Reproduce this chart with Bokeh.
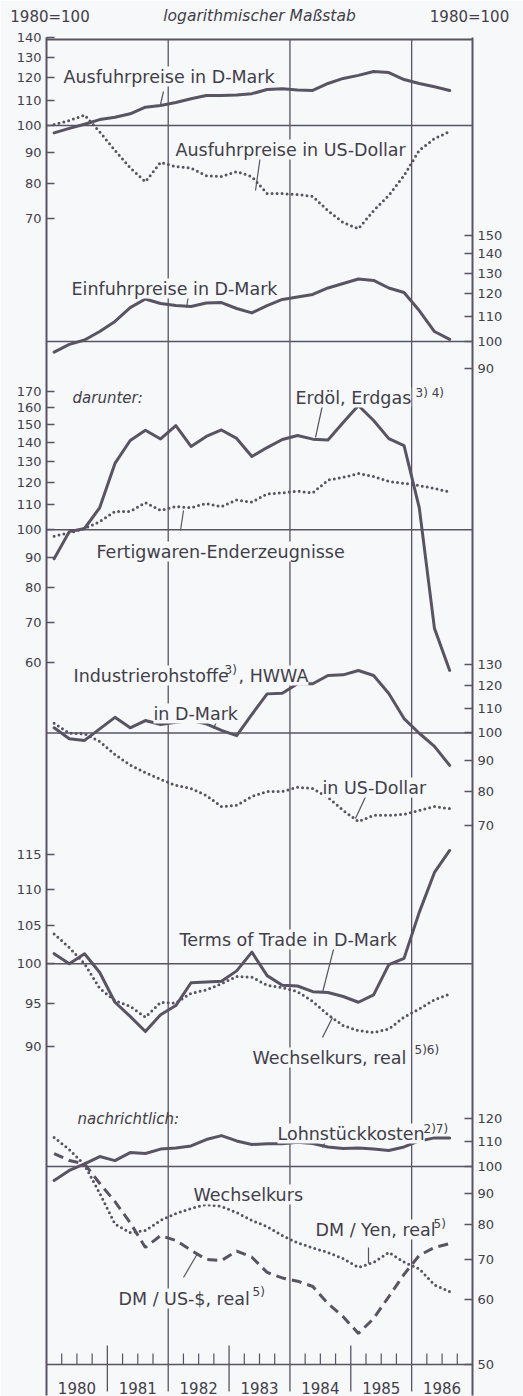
import numpy as np
from bokeh.plotting import figure
from bokeh.models import Range1d, FixedTicker, LinearAxis, Label, Span
from bokeh.embed import file_html
from bokeh.resources import INLINE

# ---------------- data (quarterly, 1980 = 100) ----------------
quarters = [f"{y}Q{q}" for y in range(1980, 1987) for q in range(1, 5)][:27]
x_q = [int(s[:4]) + (int(s[5]) - 0.5) / 4.0 for s in quarters]

ausfuhr_dm = [97.2, 98.9, 100.5, 102.3, 103.2, 104.6, 107.3, 108.0, 109.2, 110.8, 112.2, 112.2, 112.4, 113.0,
              114.8, 115.1, 114.6, 114.4, 117.5, 119.8, 121.2, 123.0, 122.5, 119.3, 117.5, 116.0, 114.4]
ausfuhr_usd = [100.4, 101.9, 104.1, 97.6, 90.9, 85.0, 80.6, 86.8, 85.4, 84.9, 82.5, 82.2, 83.8, 82.2,
               77.0, 77.0, 76.7, 76.2, 72.1, 68.9, 67.3, 72.1, 76.5, 82.5, 90.9, 95.1, 97.7]
einfuhr_dm = [96.0, 98.9, 100.6, 103.9, 108.0, 113.9, 117.7, 115.7, 114.8, 114.4, 115.9, 116.1, 113.5, 111.6,
              114.8, 117.5, 118.6, 119.8, 122.8, 124.9, 127.1, 126.4, 122.8, 120.7, 112.6, 103.9, 100.8]
erdoel = [89.5, 99.3, 100.5, 108.9, 129.0, 140.9, 146.5, 141.7, 149.2, 137.7, 143.1, 146.7, 142.0, 132.5,
          137.1, 141.4, 143.6, 141.6, 141.2, 151.0, 161.1, 152.1, 141.9, 138.1, 108.9, 68.5, 58.3]
fertigwaren = [97.6, 98.8, 100.5, 103.2, 107.3, 107.3, 111.0, 107.7, 109.3, 108.9, 110.6, 109.3, 112.1, 111.2,
               114.8, 115.2, 116.0, 115.2, 121.0, 122.3, 124.1, 122.7, 120.4, 119.5, 118.5, 117.2, 115.6]
rohstoffe_dm = [102.0, 97.8, 97.2, 101.6, 106.2, 102.0, 104.9, 103.3, 104.2, 104.9, 103.6, 101.0, 99.0, 107.4,
                116.2, 116.5, 120.8, 120.8, 124.7, 125.0, 127.1, 124.7, 116.4, 105.7, 99.9, 95.0, 88.3]
rohstoffe_usd = [103.8, 99.9, 99.7, 96.8, 92.1, 88.4, 85.9, 83.7, 81.8, 80.8, 78.7, 75.4, 75.8, 78.4,
                 79.9, 79.9, 81.2, 80.8, 78.1, 74.3, 71.2, 72.9, 72.9, 73.2, 74.3, 75.4, 74.8]
terms_of_trade = [101.3, 100.0, 101.3, 98.9, 95.2, 93.5, 91.7, 93.7, 94.8, 97.6, 97.7, 97.8, 99.1, 101.5,
                  98.5, 97.3, 97.2, 96.5, 96.4, 95.9, 95.2, 96.1, 99.9, 100.7, 106.8, 112.4, 115.6]
wechselkurs_real = [103.9, 102.1, 100.0, 96.9, 95.4, 94.7, 93.4, 95.2, 95.1, 96.3, 96.7, 97.5, 98.4, 98.3,
                    97.3, 97.0, 96.5, 95.3, 93.7, 92.4, 91.8, 91.6, 92.0, 93.4, 94.4, 95.5, 96.2]
lohnstueckkosten = [94.8, 98.5, 101.0, 103.9, 102.3, 105.5, 105.1, 106.9, 107.4, 108.2, 110.9, 112.6, 110.3, 108.8,
                    109.1, 109.1, 109.8, 109.2, 107.8, 107.2, 107.4, 106.9, 106.3, 107.8, 110.3, 111.6, 111.6]
dm_usd_real = [105.1, 102.3, 101.0, 93.7, 87.4, 80.6, 73.3, 76.7, 75.3, 72.5, 70.0, 69.7, 72.3, 70.6,
               66.6, 65.2, 64.4, 63.1, 59.1, 56.2, 52.7, 55.8, 60.7, 66.1, 71.1, 73.3, 74.4]
dm_yen_real = [111.8, 106.7, 100.6, 90.2, 80.2, 77.6, 78.2, 81.3, 83.5, 85.1, 86.4, 85.8, 83.8, 81.3,
               79.4, 76.7, 74.6, 73.2, 71.9, 70.2, 67.9, 69.2, 71.9, 69.3, 67.5, 63.5, 61.9]

years = list(range(1980, 1987))
ticks_left = {"A": [70, 80, 90, 100, 110, 120, 130, 140],
              "C": [60, 70, 80, 90, 100, 110, 120, 130, 140, 150, 160, 170],
              "E": [90, 95, 100, 105, 110, 115]}
ticks_right = {"B": [90, 100, 110, 120, 130, 140, 150],
               "D": [70, 80, 90, 100, 110, 120, 130],
               "F": [60, 70, 80, 90, 100, 110, 120]}
header_side = "1980=100"
header_mid = "logarithmischer Maßstab"

# ---------------- layout / style ----------------
BG = "#f6f8fa"
INK = "#5a5363"
TXT = "#433e4a"
FONT = "DejaVu Sans"
PX_DEC = 600.0          # pixels per decade (log10)
FL, FR = 46.0, 472.0    # frame left / right (page px)
TOP = 39.0              # top border line (page px)
FT, FB = 37.0, 1395.0   # frame top / bottom (page px)
W, H = 523, 1396


def px2x(px):
    return 1980.0 + (px - FL) * 7.0 / (FR - FL)


def py2y(py):
    return -(py - TOP) / PX_DEC


# panel: (position of the 100-line, magnification of the log scale)
panels = {"A": (py2y(125), 1.0), "B": (py2y(341), 1.0), "C": (py2y(529.3), 1.0),
          "D": (py2y(732.5), 1.0), "E": (py2y(963.3), 3.0), "F": (py2y(1166), 1.0)}


def tr(panel, vals):
    base, mag = panels[panel]
    return [round(base + mag * float(np.log10(v / 100.0)), 6) for v in vals]


p = figure(width=W, height=H, x_range=Range1d(1980, 1987), y_range=Range1d(py2y(FB), py2y(FT)),
           output_backend="svg", toolbar_location=None, x_axis_location=None, y_axis_location=None,
           min_border_left=int(FL), min_border_right=int(W - FR), min_border_top=int(FT),
           min_border_bottom=int(H - FB),
           background_fill_color=BG, border_fill_color=BG, outline_line_color=None)
p.grid.grid_line_color = None


def make_axis(tick_groups):
    ticks, over = [], {}
    for pan, vals in tick_groups.items():
        for v, t in zip(vals, tr(pan, vals)):
            ticks.append(t)
            over[t] = str(v)
    return ticks, over


lt, lo = make_axis(ticks_left)
rt, ro = make_axis(ticks_right)
y50 = round(py2y(1364), 6)
rt.append(y50)
ro[y50] = "50"

for loc, tk, ov in (("left", lt, lo), ("right", rt, ro)):
    ax = LinearAxis(ticker=FixedTicker(ticks=tk), major_label_overrides=ov,
                    axis_line_color=INK, axis_line_width=2,
                    major_tick_in=8, major_tick_out=0, major_tick_line_color=INK, major_tick_line_width=1.5,
                    minor_tick_line_color=None, major_label_standoff=5,
                    major_label_text_font=FONT, major_label_text_font_size="13px",
                    major_label_text_color=TXT)
    p.add_layout(ax, loc)

# header line: "1980=100" on both sides (tick labels), italic note in the middle (axis label)
hx = [round(px2x(49.5), 6), round(px2x(469), 6)]
top_ax = LinearAxis(ticker=FixedTicker(ticks=hx), major_label_overrides={hx[0]: header_side, hx[1]: header_side},
                    axis_line_color=None, major_tick_line_color=None, minor_tick_line_color=None,
                    major_tick_in=0, major_tick_out=0, major_label_standoff=12,
                    major_label_text_font=FONT, major_label_text_font_size="15px", major_label_text_color=TXT,
                    axis_label=header_mid, axis_label_text_font=FONT, axis_label_text_font_size="15.5px",
                    axis_label_text_font_style="italic", axis_label_text_color=TXT, axis_label_standoff=-20)
p.add_layout(top_ax, "above")

# frame top line and 100-lines
p.add_layout(Span(location=0, dimension="width", line_color=INK, line_width=2))
for pan in panels:
    p.add_layout(Span(location=panels[pan][0], dimension="width", line_color=INK, line_width=1.6))

# vertical grid lines (1982, 1984, 1986) and bottom time axis
yb = py2y(1364)
ylow = py2y(1391)
p.segment(x0=[1982, 1984, 1986], y0=[0, 0, 0], x1=[1982, 1984, 1986], y1=[ylow] * 3,
          line_color=INK, line_width=1.3)
p.segment(x0=[1981, 1983, 1985], y0=[py2y(1345)] * 3, x1=[1981, 1983, 1985], y1=[ylow] * 3,
          line_color=INK, line_width=1.3)
p.segment(x0=[1980], y0=[yb], x1=[1987], y1=[yb], line_color=INK, line_width=1.6)
qx = [y + q / 4.0 for y in years for q in (1, 2, 3)]
p.segment(x0=qx, y0=[py2y(1353)] * len(qx), x1=qx, y1=[yb] * len(qx), line_color=INK, line_width=1.2)

# series
SOLID = dict(line_color=INK, line_width=3, line_join="round", line_cap="round")
DOT = dict(line_color=INK, line_width=3, line_dash="0 5", line_cap="round")
DASH = dict(line_color=INK, line_width=3, line_dash="10 6")
p.line(x_q, tr("A", ausfuhr_dm), **SOLID)
p.line(x_q, tr("A", ausfuhr_usd), **DOT)
p.line(x_q, tr("B", einfuhr_dm), **SOLID)
p.line(x_q, tr("C", erdoel), **SOLID)
p.line(x_q, tr("C", fertigwaren), **DOT)
p.line(x_q, tr("D", rohstoffe_dm), **SOLID)
p.line(x_q, tr("D", rohstoffe_usd), **DOT)
p.line(x_q, tr("E", terms_of_trade), **SOLID)
p.line(x_q, tr("E", wechselkurs_real), **DOT)
p.line(x_q, tr("F", lohnstueckkosten), **SOLID)
p.line(x_q, tr("F", dm_usd_real), **DASH)
p.line(x_q, tr("F", dm_yen_real), **DOT)

# leader lines (page px)
leaders = [((163, 91), (160, 104)), ((260, 155), (255, 190)), ((188, 295), (186, 307)),
           ((323, 400), (315, 437)), ((183, 510), (180, 530)), ((218, 717), (213, 728)),
           ((367, 792), (355, 818)), ((334, 945), (322, 992)), ((332, 1017), (322, 1037)),
           ((328, 1135), (322, 1147)), ((368, 1247), (368, 1263)), ((197, 1253), (183, 1277))]
p.segment(x0=[px2x(a[0]) for a, b in leaders], y0=[py2y(a[1]) for a, b in leaders],
          x1=[px2x(b[0]) for a, b in leaders], y1=[py2y(b[1]) for a, b in leaders],
          line_color=INK, line_width=1.2)


def lab(text, px, py, size="17.5px", style="normal", align="left", bg=True):
    kw = dict(background_fill_color=BG, background_fill_alpha=1.0) if bg else {}
    p.add_layout(Label(x=px2x(px), y=py2y(py), text=text, text_font=FONT, text_font_size=size,
                       text_font_style=style, text_color=TXT, text_align=align,
                       text_baseline="alphabetic", **kw))


# series labels
lab("Ausfuhrpreise in D-Mark", 63, 76)
lab("Ausfuhrpreise in US-Dollar", 175, 149)
lab("Einfuhrpreise in D-Mark", 71, 288)
lab("darunter:", 72, 397, size="15px", style="italic", bg=False)
lab("Erdöl, Erdgas", 295, 397)
lab("3) 4)", 415, 392, size="12px", bg=False)
lab("Fertigwaren-Enderzeugnisse", 96, 551)
lab("Industrierohstoffe", 73, 675)
lab("3)", 224, 669, size="12px", bg=False)
lab(", HWWA", 238, 675)
lab("in D-Mark", 153, 713)
lab("in US-Dollar", 322, 787)
lab("Terms of Trade in D-Mark", 179, 939)
lab("Wechselkurs, real", 252, 1057)
lab("5)6)", 414, 1049, size="12px", bg=False)
lab("nachrichtlich:", 77, 1118, size="15px", style="italic", bg=False)
lab("Lohnstückkosten", 277, 1133)
lab("2)7)", 423, 1128, size="12px", bg=False)
lab("Wechselkurs", 193, 1194)
lab("DM / Yen, real", 315, 1229)
lab("5)", 433, 1223, size="12px", bg=False)
lab("DM / US-$, real", 118, 1298)
lab("5)", 252, 1291, size="12px", bg=False)

# year labels
for y in years:
    lab(str(y), FL + (y - 1980 + 0.5) * (FR - FL) / 7.0, 1387, size="15px", align="center", bg=False)

open("out.html", "w").write(file_html(p, INLINE))
